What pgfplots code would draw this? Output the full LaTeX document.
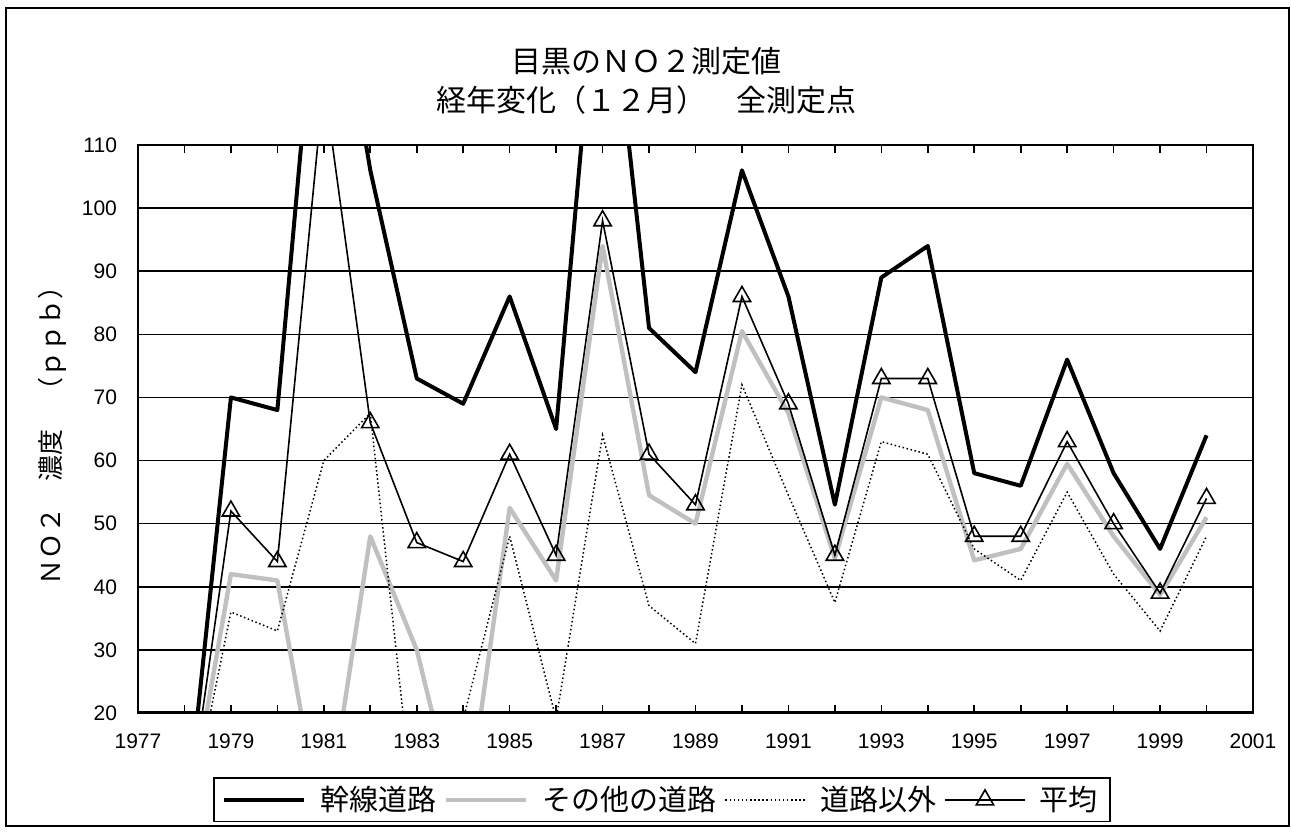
\documentclass[border=0pt]{standalone}
\usepackage{fontspec}
\setmainfont{Liberation Sans}
\newfontfamily\cjk{Noto Sans CJK JP}
\usepackage{pgfplots}
\usepackage{pgfplotstable}
\pgfplotsset{compat=1.18}
\definecolor{lgray}{RGB}{192,192,192}
\pgfplotstableread{
yr   a    b     c     d
1978 0    0     0     0
1979 70   42    36    52
1980 68   41    33    44
1981 150  0     60    120
1982 106  48    67.5  66
1983 73   30    0     47
1984 69   0     19    44
1985 86   52.5  48    61
1986 65   41    19    45
1987 148  94    64    98
1988 81   54.5  37    61
1989 74   50    31    53
1990 106  80.5  72    86
1991 86   67.5  54.5  69
1992 53   44.5  37.5  45
1993 89   70    63    73
1994 94   68    61    73
1995 58   44.2  46    48
1996 56   46    41    48
1997 76   59.5  55    63
1998 58   48    42    50
1999 46   38.7  33    39
2000 64   51    48    54
}\data
\begin{document}
\begin{tikzpicture}
\path (0,0) rectangle (646pt,-417pt);
\draw[line width=0.8pt] (3pt,-4pt) rectangle (644.5pt,-413pt);
\node[font=\cjk\fontsize{15}{19.5}\selectfont, align=center] at (323pt,-40.5pt) {目黒のＮＯ２測定値\\経年変化（１２月）　全測定点};
\node[font=\cjk\fontsize{13}{15}\selectfont, rotate=90] at (26pt,-214.5pt) {ＮＯ２　濃度　（ｐｐｂ）};
\begin{axis}[
  at={(69pt,-356.5pt)}, anchor=south west,
  scale only axis, width=557.5pt, height=284pt,
  xmin=1977, xmax=2001, ymin=20, ymax=110,
  xtick={1977,1979,...,2001},
  minor xtick={1978,1980,...,2000},
  ytick={20,30,...,110},
  ymajorgrids,
  major grid style={black, line width=0.8pt},
  axis line style={black, line width=0.8pt},
  tick align=inside,
  every tick/.style={black, line width=0.8pt},
  major tick length=4pt, minor tick length=4pt,
  ytick style={draw=none},
  /pgf/number format/assume math mode=true,
  xticklabel style={/pgf/number format/1000 sep={}, font=\fontsize{10.5}{12}\selectfont, yshift=-7pt},
  yticklabel style={font=\fontsize{10.5}{12}\selectfont, xshift=-7pt},
  legend image code/.code={\draw[mark repeat=2,mark phase=2,#1] plot coordinates {(0pt,0pt) (20pt,0pt) (40pt,0pt)};},
  legend style={at={(0.47,-0.153)}, anchor=center, legend columns=4, draw=black, line width=0.8pt,
    font=\cjk\fontsize{14.5}{17}\selectfont, inner xsep=4pt, inner ysep=2pt,
    /tikz/every even column/.append style={column sep=2pt},
    /tikz/every odd column/.append style={column sep=5pt}},
  after end axis/.code={\draw[line width=1.5pt] (rel axis cs:0,0) -- (rel axis cs:1,0);},
]
\addplot[black, line width=2pt, line join=round] table[x=yr,y=a] {\data};
\addlegendentry{幹線道路}
\addplot[lgray, line width=2.2pt, line join=round] table[x=yr,y=b] {\data};
\addlegendentry{その他の道路}
\addplot[black, line width=0.75pt, dash pattern=on 0.75pt off 1.3pt] table[x=yr,y=c] {\data};
\addlegendentry{道路以外}
\addplot[black, line width=0.8pt, mark=triangle, mark size=5pt, mark options={solid, fill=white, line width=0.8pt}] table[x=yr,y=d] {\data};
\addlegendentry{平均}
\end{axis}
\end{tikzpicture}
\end{document}
